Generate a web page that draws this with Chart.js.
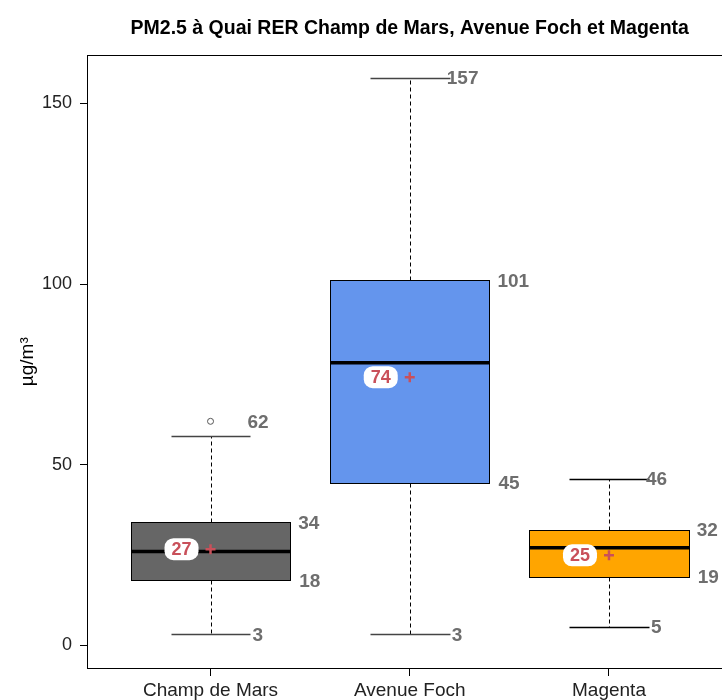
<!DOCTYPE html>
<html>
<head>
<meta charset="utf-8">
<script src="https://cdn.jsdelivr.net/npm/chart.js@4/dist/chart.umd.min.js"></script>
<style>
    html, body { margin: 0; padding: 0; overflow: hidden; background: #fff; }
</style>
</head>
<body>
<canvas id="pmChart" width="740" height="700"></canvas>
<script>
// PM2.5 values per station (µg/m3)
var categories = ['Champ de Mars', 'Avenue Foch', 'Magenta'];
var whiskerLow = [3, 3, 5];
var q1 = [18, 45, 19];
var median = [26, 78.2, 27];
var q3 = [34, 101, 32];
var whiskerHigh = [58, 157, 46];
var means = [26.6, 74.2, 24.9];
var outliers = [[62], [], []];
var yTicks = [0, 50, 100, 150];

var boxColors = ['#666666', '#6495ED', '#FFA500'];
var capColors = ['#444444', '#444444', '#000000'];
var labelGray = '#6e6e6e';
var meanRed = '#c9505a';
var fontFamily = "'Liberation Sans', Arial, sans-serif";

function crisp(v) {
    return Math.round(v) + 0.5;
}

var boxPlugin = {
    id: 'boxes',
    beforeDatasetsDraw: function(chart) {
        var ctx = chart.ctx;
        var x = chart.scales.x;
        var y = chart.scales.y;
        var area = chart.chartArea;
        ctx.save();

        // frame around the plot region
        ctx.strokeStyle = '#000';
        ctx.lineWidth = 1;
        ctx.strokeRect(crisp(area.left), crisp(area.top), Math.round(area.right - area.left), Math.round(area.bottom - area.top));

        categories.forEach(function(name, i) {
            var c = crisp(x.getPixelForValue(i + 1));
            var left = crisp(x.getPixelForValue(i + 1 - 0.4));
            var right = crisp(x.getPixelForValue(i + 1 + 0.4));
            var capL = crisp(x.getPixelForValue(i + 1 - 0.2));
            var capR = crisp(x.getPixelForValue(i + 1 + 0.2));
            var yLo = crisp(y.getPixelForValue(whiskerLow[i]));
            var yQ1 = crisp(y.getPixelForValue(q1[i]));
            var yMed = y.getPixelForValue(median[i]);
            var yQ3 = crisp(y.getPixelForValue(q3[i]));
            var yHi = crisp(y.getPixelForValue(whiskerHigh[i]));

            // dashed whiskers
            ctx.strokeStyle = '#000';
            ctx.lineWidth = 1;
            ctx.setLineDash([4, 3]);
            ctx.beginPath();
            ctx.moveTo(c, yQ3);
            ctx.lineTo(c, yHi);
            ctx.moveTo(c, yQ1);
            ctx.lineTo(c, yLo);
            ctx.stroke();
            ctx.setLineDash([]);

            // caps
            ctx.strokeStyle = capColors[i];
            ctx.lineWidth = 1.5;
            ctx.beginPath();
            ctx.moveTo(capL, yHi);
            ctx.lineTo(capR, yHi);
            ctx.moveTo(capL, yLo);
            ctx.lineTo(capR, yLo);
            ctx.stroke();

            // box
            ctx.lineWidth = 1;
            ctx.fillStyle = boxColors[i];
            ctx.fillRect(left, yQ3, right - left, yQ1 - yQ3);
            ctx.strokeStyle = '#000';
            ctx.strokeRect(left, yQ3, right - left, yQ1 - yQ3);

            // median
            ctx.lineWidth = 3.5;
            ctx.beginPath();
            ctx.moveTo(left, yMed);
            ctx.lineTo(right, yMed);
            ctx.stroke();
        });
        ctx.restore();
    },
    afterDatasetsDraw: function(chart) {
        var ctx = chart.ctx;
        var x = chart.scales.x;
        var y = chart.scales.y;
        ctx.save();
        ctx.textBaseline = 'middle';

        categories.forEach(function(name, i) {
            var c = x.getPixelForValue(i + 1);
            var right = x.getPixelForValue(i + 1 + 0.4);
            var top = Math.max.apply(null, [whiskerHigh[i]].concat(outliers[i]));

            // grey value labels
            ctx.font = 'bold 19px ' + fontFamily;
            ctx.fillStyle = labelGray;
            ctx.textAlign = 'left';
            ctx.fillText(String(Math.round(q3[i])), right + 8, y.getPixelForValue(q3[i]) + 1);
            ctx.fillText(String(Math.round(q1[i])), right + 9, y.getPixelForValue(q1[i]) + 1);
            ctx.fillText(String(Math.round(top)), c + 37, y.getPixelForValue(top) + 1);
            ctx.fillText(String(Math.round(whiskerLow[i])), c + 42, y.getPixelForValue(whiskerLow[i]) + 1);

            // mean label on white rounded background
            var lx = c - 29;
            var ly = y.getPixelForValue(means[i]);
            ctx.fillStyle = '#fff';
            ctx.beginPath();
            ctx.roundRect(lx - 17, ly - 11, 34, 22, 9);
            ctx.fill();
            ctx.font = 'bold 18px ' + fontFamily;
            ctx.fillStyle = meanRed;
            ctx.textAlign = 'center';
            ctx.fillText(String(Math.round(means[i])), lx, ly + 1);
        });
        ctx.restore();
    }
};

var pmChart = document.getElementById('pmChart');
var myChart = new Chart(pmChart, {
    type: 'scatter',
    data: {
        datasets: [{
            label: 'mean',
            data: means.map(function(m, i) { return { x: i + 1, y: m }; }),
            pointStyle: 'cross',
            pointRadius: 5,
            pointBorderWidth: 2.5,
            borderColor: meanRed,
            backgroundColor: meanRed
        }, {
            label: 'outliers',
            data: [].concat.apply([], outliers.map(function(list, i) {
                return list.map(function(v) { return { x: i + 1, y: v }; });
            })),
            pointStyle: 'circle',
            pointRadius: 3,
            pointBorderWidth: 1,
            borderColor: '#555555',
            backgroundColor: '#ffffff'
        }]
    },
    options: {
        responsive: false,
        animation: false,
        layout: {
            padding: { left: 0, right: 7, top: 0, bottom: 0 }
        },
        plugins: {
            legend: { display: false },
            tooltip: { enabled: false },
            title: {
                display: true,
                fullSize: false,
                text: 'PM2.5 à Quai RER Champ de Mars, Avenue Foch et Magenta',
                color: '#000',
                font: { family: fontFamily, size: 19.5, weight: 'bold' },
                padding: { top: 17, bottom: 15 }
            }
        },
        scales: {
            x: {
                type: 'linear',
                min: 0.38,
                max: 3.62,
                afterBuildTicks: function(scale) {
                    scale.ticks = [1, 2, 3].map(function(v) { return { value: v }; });
                },
                afterFit: function(scale) {
                    scale.height = 32;
                },
                ticks: {
                    color: '#222',
                    font: { family: fontFamily, size: 19 },
                    padding: 3,
                    maxRotation: 0,
                    callback: function(value) {
                        return categories[value - 1];
                    }
                },
                grid: {
                    drawOnChartArea: false,
                    tickLength: 8,
                    tickColor: '#000'
                },
                border: { color: '#000', width: 1 }
            },
            y: {
                type: 'linear',
                min: -6.28,
                max: 163.28,
                afterBuildTicks: function(scale) {
                    scale.ticks = yTicks.map(function(v) { return { value: v }; });
                },
                afterFit: function(scale) {
                    scale.width = 87;
                },
                title: {
                    display: true,
                    text: 'µg/m³',
                    color: '#000',
                    font: { family: fontFamily, size: 19 },
                    padding: { top: 16, bottom: 0 }
                },
                ticks: {
                    color: '#222',
                    font: { family: fontFamily, size: 18 },
                    padding: 8
                },
                grid: {
                    drawOnChartArea: false,
                    tickLength: 7,
                    tickColor: '#000'
                },
                border: { color: '#000', width: 1 }
            }
        }
    },
    plugins: [boxPlugin]
});
</script>
</body>
</html>
